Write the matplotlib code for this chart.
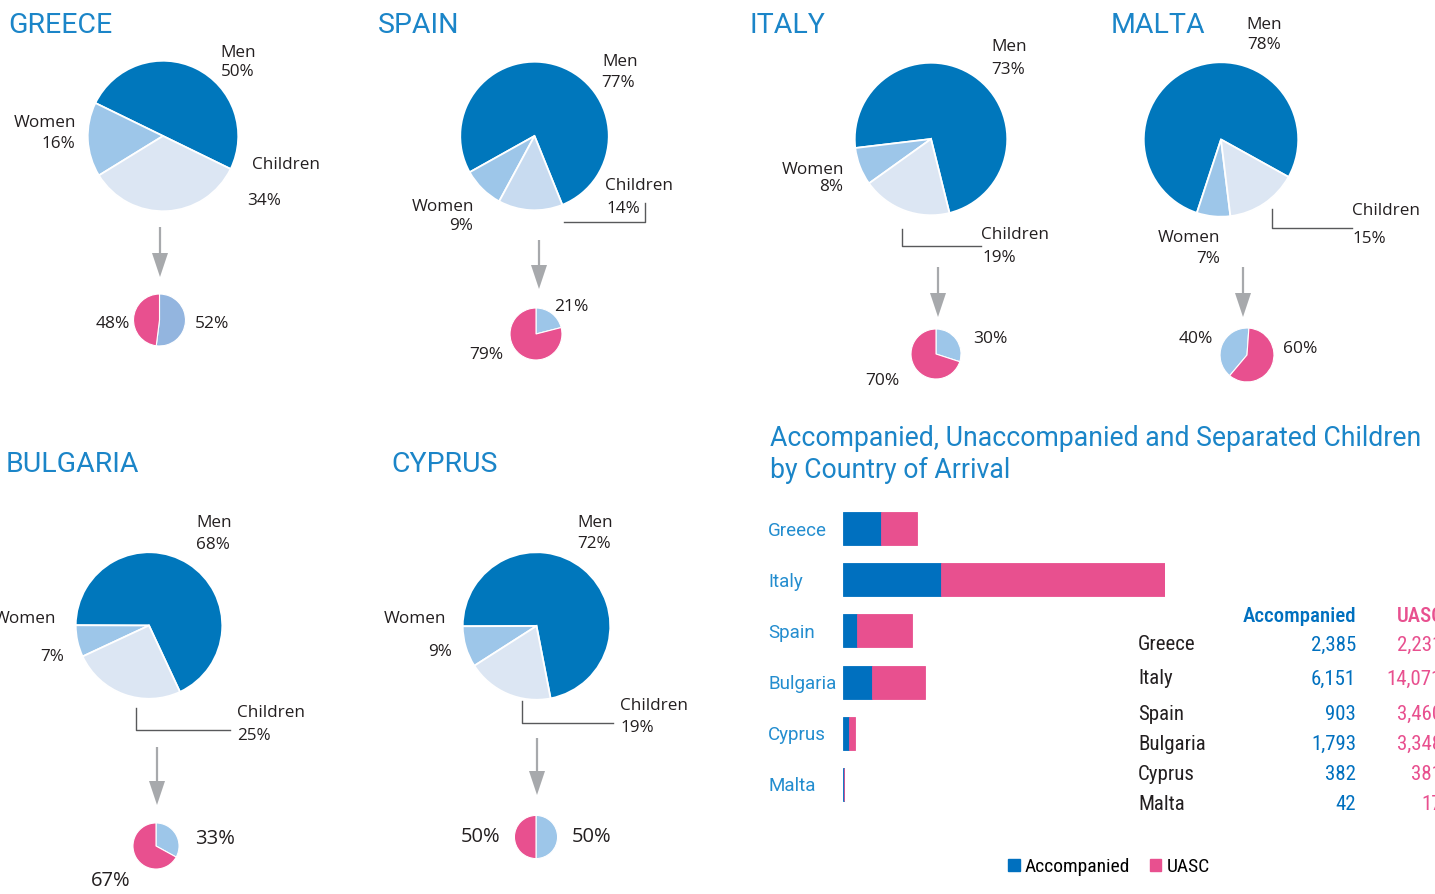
import matplotlib
matplotlib.use("Agg")
import matplotlib.pyplot as plt
from matplotlib import font_manager
from matplotlib.patches import Patch

# ---- data -------------------------------------------------------------
countries = ['Greece', 'Spain', 'Italy', 'Malta', 'Bulgaria', 'Cyprus']
men = [50, 77, 73, 78, 68, 72]
women = [16, 9, 8, 7, 7, 9]
children = [34, 14, 19, 15, 25, 19]
acc_share = [52, 21, 30, 40, 33, 50]
uasc_share = [48, 79, 70, 60, 67, 50]

bar_countries = ['Greece', 'Italy', 'Spain', 'Bulgaria', 'Cyprus', 'Malta']
accompanied = [2385, 6151, 903, 1793, 382, 42]
uasc = [2231, 14071, 3460, 3348, 381, 17]

# ---- style ------------------------------------------------------------
W, H = 1435, 894
MEN_C = '#0077BC'
WOMEN_C = '#9DC6E9'
CHILD_C = '#DCE6F3'
PINK = '#E8508F'
TITLE_C = '#1B85C8'
BAR_BLUE = '#0070BF'
LAB_BLUE = '#238DCF'
TXT = '#231F20'
LEAD = '#58595B'
ARROW = '#A7A9AC'

LABEL_F = 'Open Sans'
TITLE_F = 'Roboto'

# look for a condensed face for the table
ttf = font_manager.fontManager.ttflist
names = {f.name for f in ttf}
narrow = None
for p in ['Liberation Sans Narrow', 'Roboto Condensed', 'Open Sans Condensed',
          'Noto Sans Condensed', 'DejaVu Sans Condensed', 'Arial Narrow']:
    if p in names:
        narrow = dict(family=p)
        break
if narrow is None:
    for f in ttf:
        if str(f.stretch) in ('condensed', 'semi-condensed', 'extra-condensed') and 'Mono' not in f.name \
                and 'Serif' not in f.name:
            narrow = dict(family=f.name, stretch=str(f.stretch))
            break
k = 1.0
if narrow is None:
    narrow = dict(family='DejaVu Sans')
    k = 0.82

# per-country layout (pixel positions)
lay = {
    'Greece': dict(title=(8, 33, 'GREECE'), main=(163, 136, 76), start=334,
                   child_c=CHILD_C, small=(159.5, 320, 26.5), scc=False, sstart=90,
                   arrow=(160, 227, 277), leader=None,
                   men=(220, 53, 221, 72, 'left'), women=(76, 123, 75, 144, 'right'),
                   child=(252, 165, 247, 201, 'left'),
                   acc=(195, 324, 'left'), uas=(130, 324, 'right'), ssize=12.5),
    'Spain': dict(title=(378, 33, 'SPAIN'), main=(534.5, 136, 75), start=292,
                  child_c='#C8DBF0', small=(536, 334, 26.5), scc=False, sstart=90,
                  arrow=(539, 240, 289), leader=[(564, 222), (645, 222), (645, 203)],
                  men=(602, 62, 601, 83, 'left'), women=(474, 207, 473, 226, 'right'),
                  child=(605, 186, 607, 209, 'left'),
                  acc=(554, 307, 'left'), uas=(503, 355, 'right'), ssize=12.5),
    'Italy': dict(title=(749, 33, 'ITALY'), main=(931, 139, 77), start=284,
                  child_c=CHILD_C, small=(936, 354, 25.5), scc=False, sstart=90,
                  arrow=(938, 267, 317), leader=[(902, 229), (902, 246), (981, 246)],
                  men=(991, 47, 991, 70, 'left'), women=(844, 170, 843, 187, 'right'),
                  child=(981, 235, 983, 258, 'left'),
                  acc=(973, 339, 'left'), uas=(899, 381, 'right'), ssize=12.5),
    'Malta': dict(title=(1111, 33, 'MALTA'), main=(1221, 139.5, 78), start=331,
                  child_c=CHILD_C, small=(1247, 355, 27.5), scc=True, sstart=86,
                  arrow=(1243, 267, 317), leader=[(1272, 209), (1272, 228), (1352, 228)],
                  men=(1246, 25, 1247, 45, 'left'), women=(1220, 238, 1220, 259, 'right'),
                  child=(1352, 211, 1353, 239, 'left'),
                  acc=(1213, 339, 'right'), uas=(1283, 349, 'left'), ssize=12.5),
    'Bulgaria': dict(title=(6, 472, 'BULGARIA'), main=(149, 625.5, 74), start=295,
                     child_c=CHILD_C, small=(156, 846, 23.5), scc=False, sstart=90,
                     arrow=(157, 747, 805), leader=[(136, 708), (136, 730), (230, 730)],
                     men=(196, 523, 196, 545, 'left'), women=(56, 619, 64, 657, 'right'),
                     child=(237, 713, 237, 736, 'left'),
                     acc=(195, 839, 'left'), uas=(131, 881, 'right'), ssize=14.5),
    'Cyprus': dict(title=(391, 472, 'CYPRUS'), main=(536.5, 626, 74.5), start=281,
                   child_c=CHILD_C, small=(536, 837, 22), scc=False, sstart=90,
                   arrow=(537, 738, 795), leader=[(522, 701), (522, 723), (613, 723)],
                   men=(577, 523, 577, 544, 'left'), women=(446, 619, 452, 652, 'right'),
                   child=(620, 706, 620, 728, 'left'),
                   acc=(572, 837, 'left'), uas=(500, 837, 'right'), ssize=14.5),
}

fig = plt.figure(figsize=(W / 100, H / 100), dpi=100)
fig.patch.set_facecolor('white')

ov = fig.add_axes([0, 0, 1, 1])
ov.set_xlim(0, W)
ov.set_ylim(H, 0)
ov.axis('off')


def pie_ax(cx, cy, r):
    a = fig.add_axes([(cx - r) / W, 1 - (cy + r) / H, 2 * r / W, 2 * r / H])
    a.axis('off')
    return a


for i, c in enumerate(countries):
    L = lay[c]
    tx, ty, tt = L['title']
    ov.text(tx, ty, tt, color=TITLE_C, fontsize=20.5, family=TITLE_F,
            va='baseline', ha='left')

    cx, cy, r = L['main']
    a = pie_ax(cx, cy, r)
    a.pie([men[i], women[i], children[i]], colors=[MEN_C, WOMEN_C, L['child_c']],
          startangle=L['start'], counterclock=True,
          wedgeprops=dict(edgecolor='white', linewidth=1.3))
    a.set_xlim(-1.01, 1.01)
    a.set_ylim(-1.01, 1.01)

    sx, sy, sr = L['small']
    b = pie_ax(sx, sy, sr)
    b.pie([acc_share[i], uasc_share[i]], colors=[WOMEN_C if c != 'Greece' else '#93B5DF', PINK],
          startangle=L['sstart'], counterclock=L['scc'],
          wedgeprops=dict(edgecolor='white', linewidth=0.8))
    b.set_xlim(-1.02, 1.02)
    b.set_ylim(-1.02, 1.02)

    # labels
    for key, name, val in [('men', 'Men', men[i]), ('women', 'Women', women[i]),
                           ('child', 'Children', children[i])]:
        x1, y1, x2, y2, ha = L[key]
        ov.text(x1, y1, name, fontsize=12.3, family=LABEL_F, color=TXT, ha=ha, va='center')
        ov.text(x2, y2, f'{val}%', fontsize=12.3, family=LABEL_F, color=TXT, ha=ha, va='center')
    x, y, ha = L['acc']
    ov.text(x, y, f'{acc_share[i]}%', fontsize=L['ssize'], family=LABEL_F, color=TXT, ha=ha, va='center')
    x, y, ha = L['uas']
    ov.text(x, y, f'{uasc_share[i]}%', fontsize=L['ssize'], family=LABEL_F, color=TXT, ha=ha, va='center')

    # arrow
    ax_, y0, y1 = L['arrow']
    ov.plot([ax_, ax_], [y0, y1 - 20], color=ARROW, lw=1.6, solid_capstyle='butt')
    ov.fill([ax_ - 8, ax_ + 8, ax_], [y1 - 24, y1 - 24, y1], color=ARROW, lw=0)

    if L['leader']:
        xs, ys = zip(*L['leader'])
        ov.plot(xs, ys, color=LEAD, lw=1.0)

# ---- bar chart ------------------------------------------------------------
ov.text(770, 446, 'Accompanied, Unaccompanied and Separated Children', color=TITLE_C,
        fontsize=19.2, family=TITLE_F, va='baseline')
ov.text(770, 478, 'by Country of Arrival', color=TITLE_C,
        fontsize=19.2, family=TITLE_F, va='baseline')

bx0, bx1 = 843, 1165
by0, by1 = 503, 810
bax = fig.add_axes([bx0 / W, 1 - by1 / H, (bx1 - bx0) / W, (by1 - by0) / H])
bax.patch.set_alpha(0)
ypos = list(range(len(bar_countries)))
bax.barh(ypos, accompanied, height=0.645, color=BAR_BLUE, edgecolor=BAR_BLUE, lw=0.6)
bax.barh(ypos, uasc, left=accompanied, height=0.645, color=PINK, edgecolor=PINK, lw=0.6)
bax.set_xlim(0, 20222)
bax.set_ylim(len(bar_countries) - 0.5, -0.5)
bax.set_yticks(ypos, bar_countries)
bax.tick_params(axis='y', length=0, pad=54, labelsize=13.5, labelcolor=LAB_BLUE)
for t in bax.get_yticklabels():
    t.set_ha('left')
    t.set_family(TITLE_F)
bax.set_xticks([])
for s in bax.spines.values():
    s.set_visible(False)

# table
fs = 15 * k
row_y = [645, 679, 714, 744, 775, 805]
ov.text(1356, 616, 'Accompanied', color=BAR_BLUE, fontsize=fs, ha='right', va='center',
        fontweight='medium', **narrow)
ov.text(1444, 616, 'UASC', color=PINK, fontsize=fs, ha='right', va='center',
        fontweight='medium', **narrow)
for name, a_v, u_v, y in zip(bar_countries, accompanied, uasc, row_y):
    ov.text(1138, y, name, color=TXT, fontsize=fs, ha='left', va='center', **narrow)
    ov.text(1356, y, f'{a_v:,}', color=BAR_BLUE, fontsize=fs, ha='right', va='center', **narrow)
    ov.text(1442, y, f'{u_v:,}', color=PINK, fontsize=fs, ha='right', va='center', **narrow)

prop = font_manager.FontProperties(size=14 * k, **narrow)
fig.legend([Patch(color=BAR_BLUE), Patch(color=PINK)], ['Accompanied', 'UASC'],
           loc='center', bbox_to_anchor=(1109 / W, 1 - 867 / H), ncol=2, frameon=False,
           handlelength=0.6, handleheight=0.6, handletextpad=0.25, columnspacing=1.0,
           prop=prop)

fig.savefig('out.png', dpi=100, facecolor='white')
